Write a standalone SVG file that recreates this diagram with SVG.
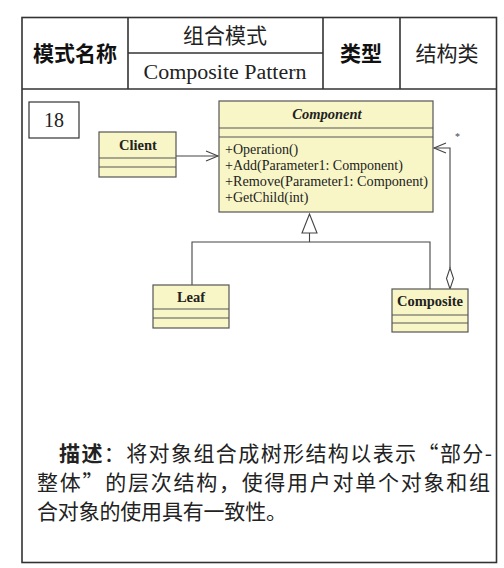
<svg xmlns="http://www.w3.org/2000/svg" width="504" height="568" viewBox="0 0 504 568">
<style>
.frame{fill:none;stroke:#333;stroke-width:1.6}
.cls{fill:#F8F6C6;stroke:#555;stroke-width:1.2}
.ln{fill:none;stroke:#444;stroke-width:1.1}
.hb{font-family:"Noto Sans CJK SC",sans-serif;font-weight:bold;font-size:21px;fill:#111}
.hn{font-family:"Noto Sans CJK SC",sans-serif;font-size:21px;fill:#222}
.en{font-family:"Liberation Serif",serif;font-size:20px;fill:#222}
.nm{font-family:"Liberation Serif",serif;font-weight:bold;font-size:14.5px;fill:#222}
.mt{font-family:"Liberation Serif",serif;font-size:14px;fill:#222}
.ds{font-family:"Noto Sans CJK SC",sans-serif;font-size:21px;fill:#222}
</style>
<rect width="504" height="568" fill="#fff"/>
<g id="frame">
<rect class="frame" x="22" y="17.5" width="474.5" height="545"/>
<line class="frame" x1="22" y1="89" x2="496.5" y2="89"/>
<line class="frame" x1="128" y1="17.5" x2="128" y2="89"/>
<line class="frame" x1="323" y1="17.5" x2="323" y2="89"/>
<line class="frame" x1="400" y1="17.5" x2="400" y2="89"/>
<line class="frame" x1="128" y1="53" x2="323" y2="53"/>
<text class="hb" x="75" y="61" text-anchor="middle">模式名称</text>
<text class="hn" x="225" y="43" text-anchor="middle">组合模式</text>
<text class="en" x="225" y="79" text-anchor="middle" textLength="163" lengthAdjust="spacingAndGlyphs">Composite Pattern</text>
<text class="hb" x="361" y="61" text-anchor="middle">类型</text>
<text class="hn" x="447" y="61" text-anchor="middle">结构类</text>
</g>
<g id="num">
<rect x="29" y="102" width="50" height="36" fill="#fff" stroke="#333" stroke-width="1.2"/>
<text x="54" y="127" text-anchor="middle" font-family="Liberation Serif,serif" font-size="20" fill="#222">18</text>
</g>
<g id="connectors">
<line class="ln" x1="176" y1="156" x2="218" y2="156"/>
<polyline class="ln" points="206,151 218,156 206,161"/>
<polyline class="ln" points="450,268 450,148 434,148"/>
<polyline class="ln" points="446,143 434,148 446,153"/>
<text x="455" y="140" font-family="Liberation Serif,serif" font-size="10" fill="#444">*</text>
<polygon points="450,268 453.5,278.5 450,289 446.5,278.5" fill="#fff" stroke="#444" stroke-width="1.1"/>
<polygon points="309.5,214 302,233 317,233" fill="#fff" stroke="#444" stroke-width="1.1"/>
<line class="ln" x1="309.5" y1="233" x2="309.5" y2="242"/>
<polyline class="ln" points="192,285 192,242 430,242 430,289"/>
</g>
<g id="client">
<rect class="cls" x="99" y="132" width="77" height="45"/>
<line class="cls" x1="99" y1="158" x2="176" y2="158"/>
<line class="cls" x1="99" y1="167" x2="176" y2="167"/>
<text class="nm" x="138" y="150" text-anchor="middle">Client</text>
</g>
<g id="component">
<rect class="cls" x="219" y="101" width="214" height="111"/>
<line class="cls" x1="219" y1="128" x2="433" y2="128"/>
<line class="cls" x1="219" y1="137" x2="433" y2="137"/>
<text class="nm" x="327" y="119" text-anchor="middle" font-style="italic">Component</text>
<text class="mt" x="225" y="154">+Operation()</text>
<text class="mt" x="225" y="170">+Add(Parameter1: Component)</text>
<text class="mt" x="225" y="186" textLength="203" lengthAdjust="spacingAndGlyphs">+Remove(Parameter1: Component)</text>
<text class="mt" x="225" y="202">+GetChild(int)</text>
</g>
<g id="leaf">
<rect class="cls" x="153" y="285" width="76" height="43"/>
<line class="cls" x1="153" y1="309" x2="229" y2="309"/>
<line class="cls" x1="153" y1="318" x2="229" y2="318"/>
<text class="nm" x="191" y="302" text-anchor="middle">Leaf</text>
</g>
<g id="composite">
<rect class="cls" x="392" y="289" width="76" height="43"/>
<line class="cls" x1="392" y1="315" x2="468" y2="315"/>
<line class="cls" x1="392" y1="323" x2="468" y2="323"/>
<text class="nm" x="430" y="306" text-anchor="middle">Composite</text>
</g>
<g id="desc">
<text class="ds" x="59" y="461" textLength="433" lengthAdjust="spacing"><tspan font-weight="bold">描述</tspan>：将对象组合成树形结构以表示“部分-</text>
<text class="ds" x="37" y="490" textLength="453" lengthAdjust="spacing">整体”的层次结构，使得用户对单个对象和组</text>
<text class="ds" x="37" y="519" textLength="250" lengthAdjust="spacing">合对象的使用具有一致性。</text>
</g>
</svg>
